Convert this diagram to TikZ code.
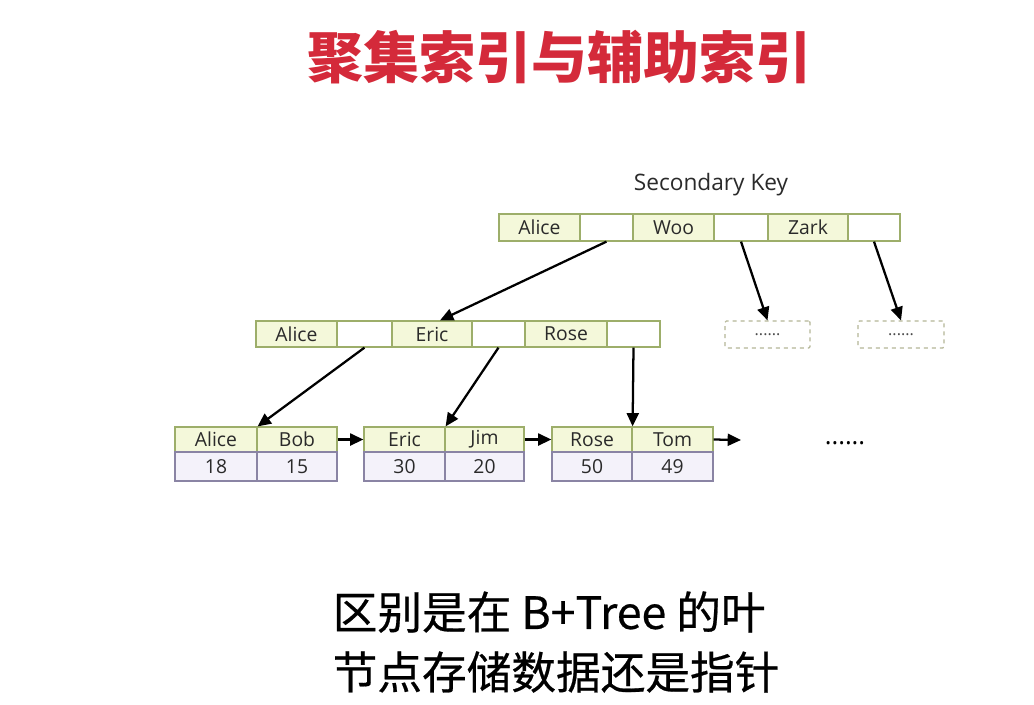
\documentclass[tikz,border=0pt]{standalone}
\usepackage{fontspec}
\setmainfont{Open Sans}
\newfontfamily\cjk{Noto Sans CJK SC}
\newfontfamily\cjkmed[FakeBold=0.5]{Noto Sans CJK SC}
\usetikzlibrary{arrows.meta}

\definecolor{keyfill}{HTML}{F4F8DA}
\definecolor{keyline}{HTML}{9DAE6A}
\definecolor{valfill}{HTML}{F4F2FA}
\definecolor{valline}{HTML}{8A84A4}
\definecolor{dashline}{HTML}{B4B697}
\definecolor{titlered}{HTML}{D42A3A}
\definecolor{txt}{HTML}{2A2A2A}

% one cell of a page: name, style, left, right, top, bottom, text
\newcommand\cellnode[7]{%
  \node[#2, minimum width={(#4-#3)*0.75pt}, minimum height={(#6-#5)*0.75pt}]
    (#1) at ({(#3+#4)/2},{(#5+#6)/2}) {#7};}

\begin{document}
\begin{tikzpicture}[x=0.75pt,y=-0.75pt,
  cellbase/.style={draw, line width=0.9pt, inner sep=0pt, text=txt,
    font=\fontsize{14.5}{16}\selectfont},
  keycell/.style={cellbase, draw=keyline, fill=keyfill},
  ptrcell/.style={cellbase, draw=keyline, fill=white},
  valcell/.style={cellbase, draw=valline, fill=valfill},
  dashbox/.style={draw=dashline, dashed, line width=0.9pt, rounded corners=1pt,
    inner sep=0pt, text=black!70, font=\fontsize{12}{13}\selectfont},
  link/.style={line width=1.7pt, -{Triangle[length=10pt,width=9pt]}},
  caption/.style={anchor=west, text=black, font=\cjkmed\fontsize{33.5}{36}\selectfont},
]
\useasboundingbox[fill=white] (0,0) rectangle (1034,704);

% title
\node[text=titlered, font=\cjk\bfseries\fontsize{42}{46}\selectfont]
  (title) at (559,57) {聚集索引与辅助索引};

% root page
\node[text=txt, font=\fontsize{17}{19}\selectfont] (sk) at (711,185) {Secondary Key};
\cellnode{t1}{keycell}{499}{580}{214}{241}{Alice}
\cellnode{t2}{ptrcell}{580}{633}{214}{241}{}
\cellnode{t3}{keycell}{633}{714}{214}{241}{Woo}
\cellnode{t4}{ptrcell}{714}{768}{214}{241}{}
\cellnode{t5}{keycell}{768}{848}{214}{241}{Zark}
\cellnode{t6}{ptrcell}{848}{900}{214}{241}{}

% second level
\cellnode{m1}{keycell}{256}{337}{321}{347}{Alice}
\cellnode{m2}{ptrcell}{337}{392}{321}{347}{}
\cellnode{m3}{keycell}{392}{472}{321}{347}{Eric}
\cellnode{m4}{ptrcell}{472}{525}{321}{347}{}
\cellnode{m5}{keycell}{525}{607}{321}{347}{Rose}
\cellnode{m6}{ptrcell}{607}{660}{321}{347}{}
\cellnode{d1}{dashbox}{725}{810}{321}{348}{......}
\cellnode{d2}{dashbox}{858}{944}{321}{348}{......}

% leaf pages: keys above, values below
\cellnode{l1a}{keycell}{175}{257}{427}{452}{Alice}
\cellnode{l1b}{keycell}{257}{337}{427}{452}{Bob}
\cellnode{l1c}{valcell}{175}{257}{452}{481}{18}
\cellnode{l1d}{valcell}{257}{337}{452}{481}{15}
\cellnode{l2a}{keycell}{364}{445}{427}{452}{Eric}
\cellnode{l2b}{keycell}{445}{524}{427}{452}{Jim}
\cellnode{l2c}{valcell}{364}{445}{452}{481}{30}
\cellnode{l2d}{valcell}{445}{524}{452}{481}{20}
\cellnode{l3a}{keycell}{552}{632}{427}{452}{Rose}
\cellnode{l3b}{keycell}{632}{713}{427}{452}{Tom}
\cellnode{l3c}{valcell}{552}{632}{452}{481}{50}
\cellnode{l3d}{valcell}{632}{713}{452}{481}{49}
\coordinate (lnext) at (741,440);
\node[text=black, font=\fontsize{19}{20}\selectfont] (more) at (845,443) {......};

% pointers
\draw[link] (t2.south) -- ([xshift=6pt]m3.north);
\draw[link] (t4.south) -- (d1.north);
\draw[link] (t6.south) -- (d2.north);
\draw[link] (m2.south) -- (l1a.north east);
\draw[link] (m4.south) -- (l2a.north east);
\draw[link] (m6.south) -- (l3a.north east);
\draw[link] (l1b.east) -- (l2a.west);
\draw[link] (l2b.east) -- (l3a.west);
\draw[link] (l3b.east) -- (lnext);

% caption
\node[caption] (cap1) at (328,612) {区别是在 B+Tree 的叶};
\node[caption] (cap2) at (328,672) {节点存储数据还是指针};
\end{tikzpicture}
\end{document}
